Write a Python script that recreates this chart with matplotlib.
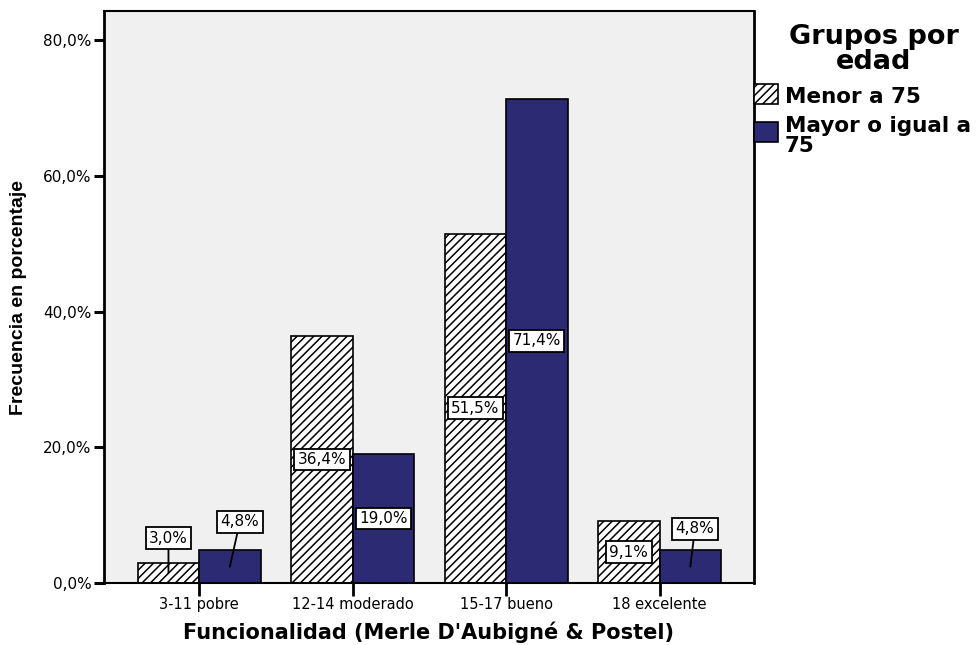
import matplotlib
matplotlib.use("Agg")
import matplotlib.pyplot as plt
from matplotlib.patches import Rectangle
import numpy as np

categories = ["3-11 pobre", "12-14 moderado", "15-17 bueno", "18 excelente"]
menor_75 = [3.0, 36.4, 51.5, 9.1]
mayor_75 = [4.8, 19.0, 71.4, 4.8]
legend_title = ["Grupos por", "edad"]
legend_labels = [["Menor a 75"], ["Mayor o igual a", "75"]]
y_ticks = [0, 20, 40, 60, 80]

NAVY = "#2B2A73"
BG = "#F0F0F0"
WIDE = ["DejaVu Sans"]
ARIAL = ["Liberation Sans", "DejaVu Sans"]

plt.rcParams["font.family"] = WIDE
plt.rcParams["hatch.linewidth"] = 1.1

W, H = 979, 645
AX_L, AX_R, AX_T, AX_B = 104, 754, 11, 583
fig = plt.figure(figsize=(W / 100, H / 100), dpi=100)
ax = fig.add_axes([AX_L / W, (H - AX_B) / H, (AX_R - AX_L) / W, (AX_B - AX_T) / H])
ax.set_facecolor(BG)

x = np.arange(len(categories))
w = 0.40
ax.bar(x - w / 2, menor_75, w, facecolor="white", edgecolor="black",
       hatch="////", linewidth=1.2, zorder=2)
ax.bar(x + w / 2, mayor_75, w, facecolor=NAVY, edgecolor="black",
       linewidth=1.2, zorder=2)

ax.set_xlim(-0.62, 3.615)
ax.set_ylim(0, 84.3)
ax.set_yticks(y_ticks)
ax.set_yticklabels([f"{v:.1f}%".replace(".", ",") for v in y_ticks], fontsize=11)
ax.set_xticks(x)
ax.set_xticklabels(categories, fontsize=10.5)
ax.tick_params(axis="y", length=7, width=2.2, direction="out", pad=2)
ax.tick_params(axis="x", length=9, width=2.0, direction="out", pad=1)
for side in ("left", "right"):
    ax.spines[side].set_linewidth(2.0)
for side in ("top", "bottom"):
    ax.spines[side].set_linewidth(1.5)

ax.set_xlabel("Funcionalidad (Merle D'Aubigné & Postel)", fontsize=15,
              fontweight="bold", va="baseline")
ax.xaxis.set_label_coords(0.5, (AX_B - 639) / (AX_B - AX_T))
fig.text(19 / W, 1 - 297 / H, "Frecuencia en porcentaje", rotation=90,
         ha="center", va="center", fontsize=14, fontweight="bold", family=ARIAL)

box = dict(boxstyle="square,pad=0.22", facecolor="white", edgecolor="black",
           linewidth=1.3)


def fmt(v):
    return f"{v:.1f}%".replace(".", ",")


# Tall bars carry their label at mid-height; short bars get a leader line
def label(xc, v, dx=0.0, y_off=None):
    if y_off is None:
        ax.text(xc, v / 2, fmt(v), ha="center", va="center", fontsize=11,
                bbox=box, zorder=4)
    else:
        ax.annotate(fmt(v), xy=(xc, v / 2), xytext=(xc + dx, y_off),
                    ha="center", va="center", fontsize=11, bbox=box, zorder=4,
                    arrowprops=dict(arrowstyle="-", color="black", lw=1.3,
                                    shrinkA=0, shrinkB=0))


label(x[0] - w / 2, menor_75[0], 0.0, 6.6)
label(x[0] + w / 2, mayor_75[0], 0.065, 9.0)
label(x[1] - w / 2, menor_75[1])
label(x[1] + w / 2, mayor_75[1])
label(x[2] - w / 2, menor_75[2])
label(x[2] + w / 2, mayor_75[2])
label(x[3] - w / 2, menor_75[3])
label(x[3] + w / 2, mayor_75[3], 0.03, 8.0)

# Legend beside the plot area
for line, base in zip(legend_title, (44, 69)):
    fig.text(874 / W, 1 - base / H, line, ha="center", va="baseline",
             fontsize=19.5, fontweight="bold")
fig.add_artist(Rectangle((754 / W, 1 - 104 / H), 24 / W, 20 / H,
                         transform=fig.transFigure, facecolor="white",
                         edgecolor="black", hatch="////", linewidth=1.2))
fig.add_artist(Rectangle((754 / W, 1 - 142 / H), 24 / W, 20 / H,
                         transform=fig.transFigure, facecolor=NAVY,
                         edgecolor="black", linewidth=1.2))
for lines, bases in zip(legend_labels, ((103,), (132, 152))):
    for line, base in zip(lines, bases):
        fig.text(785 / W, 1 - base / H, line, ha="left", va="baseline",
                 fontsize=15.5, fontweight="bold")

fig.savefig("out.png", dpi=100, facecolor="white")
